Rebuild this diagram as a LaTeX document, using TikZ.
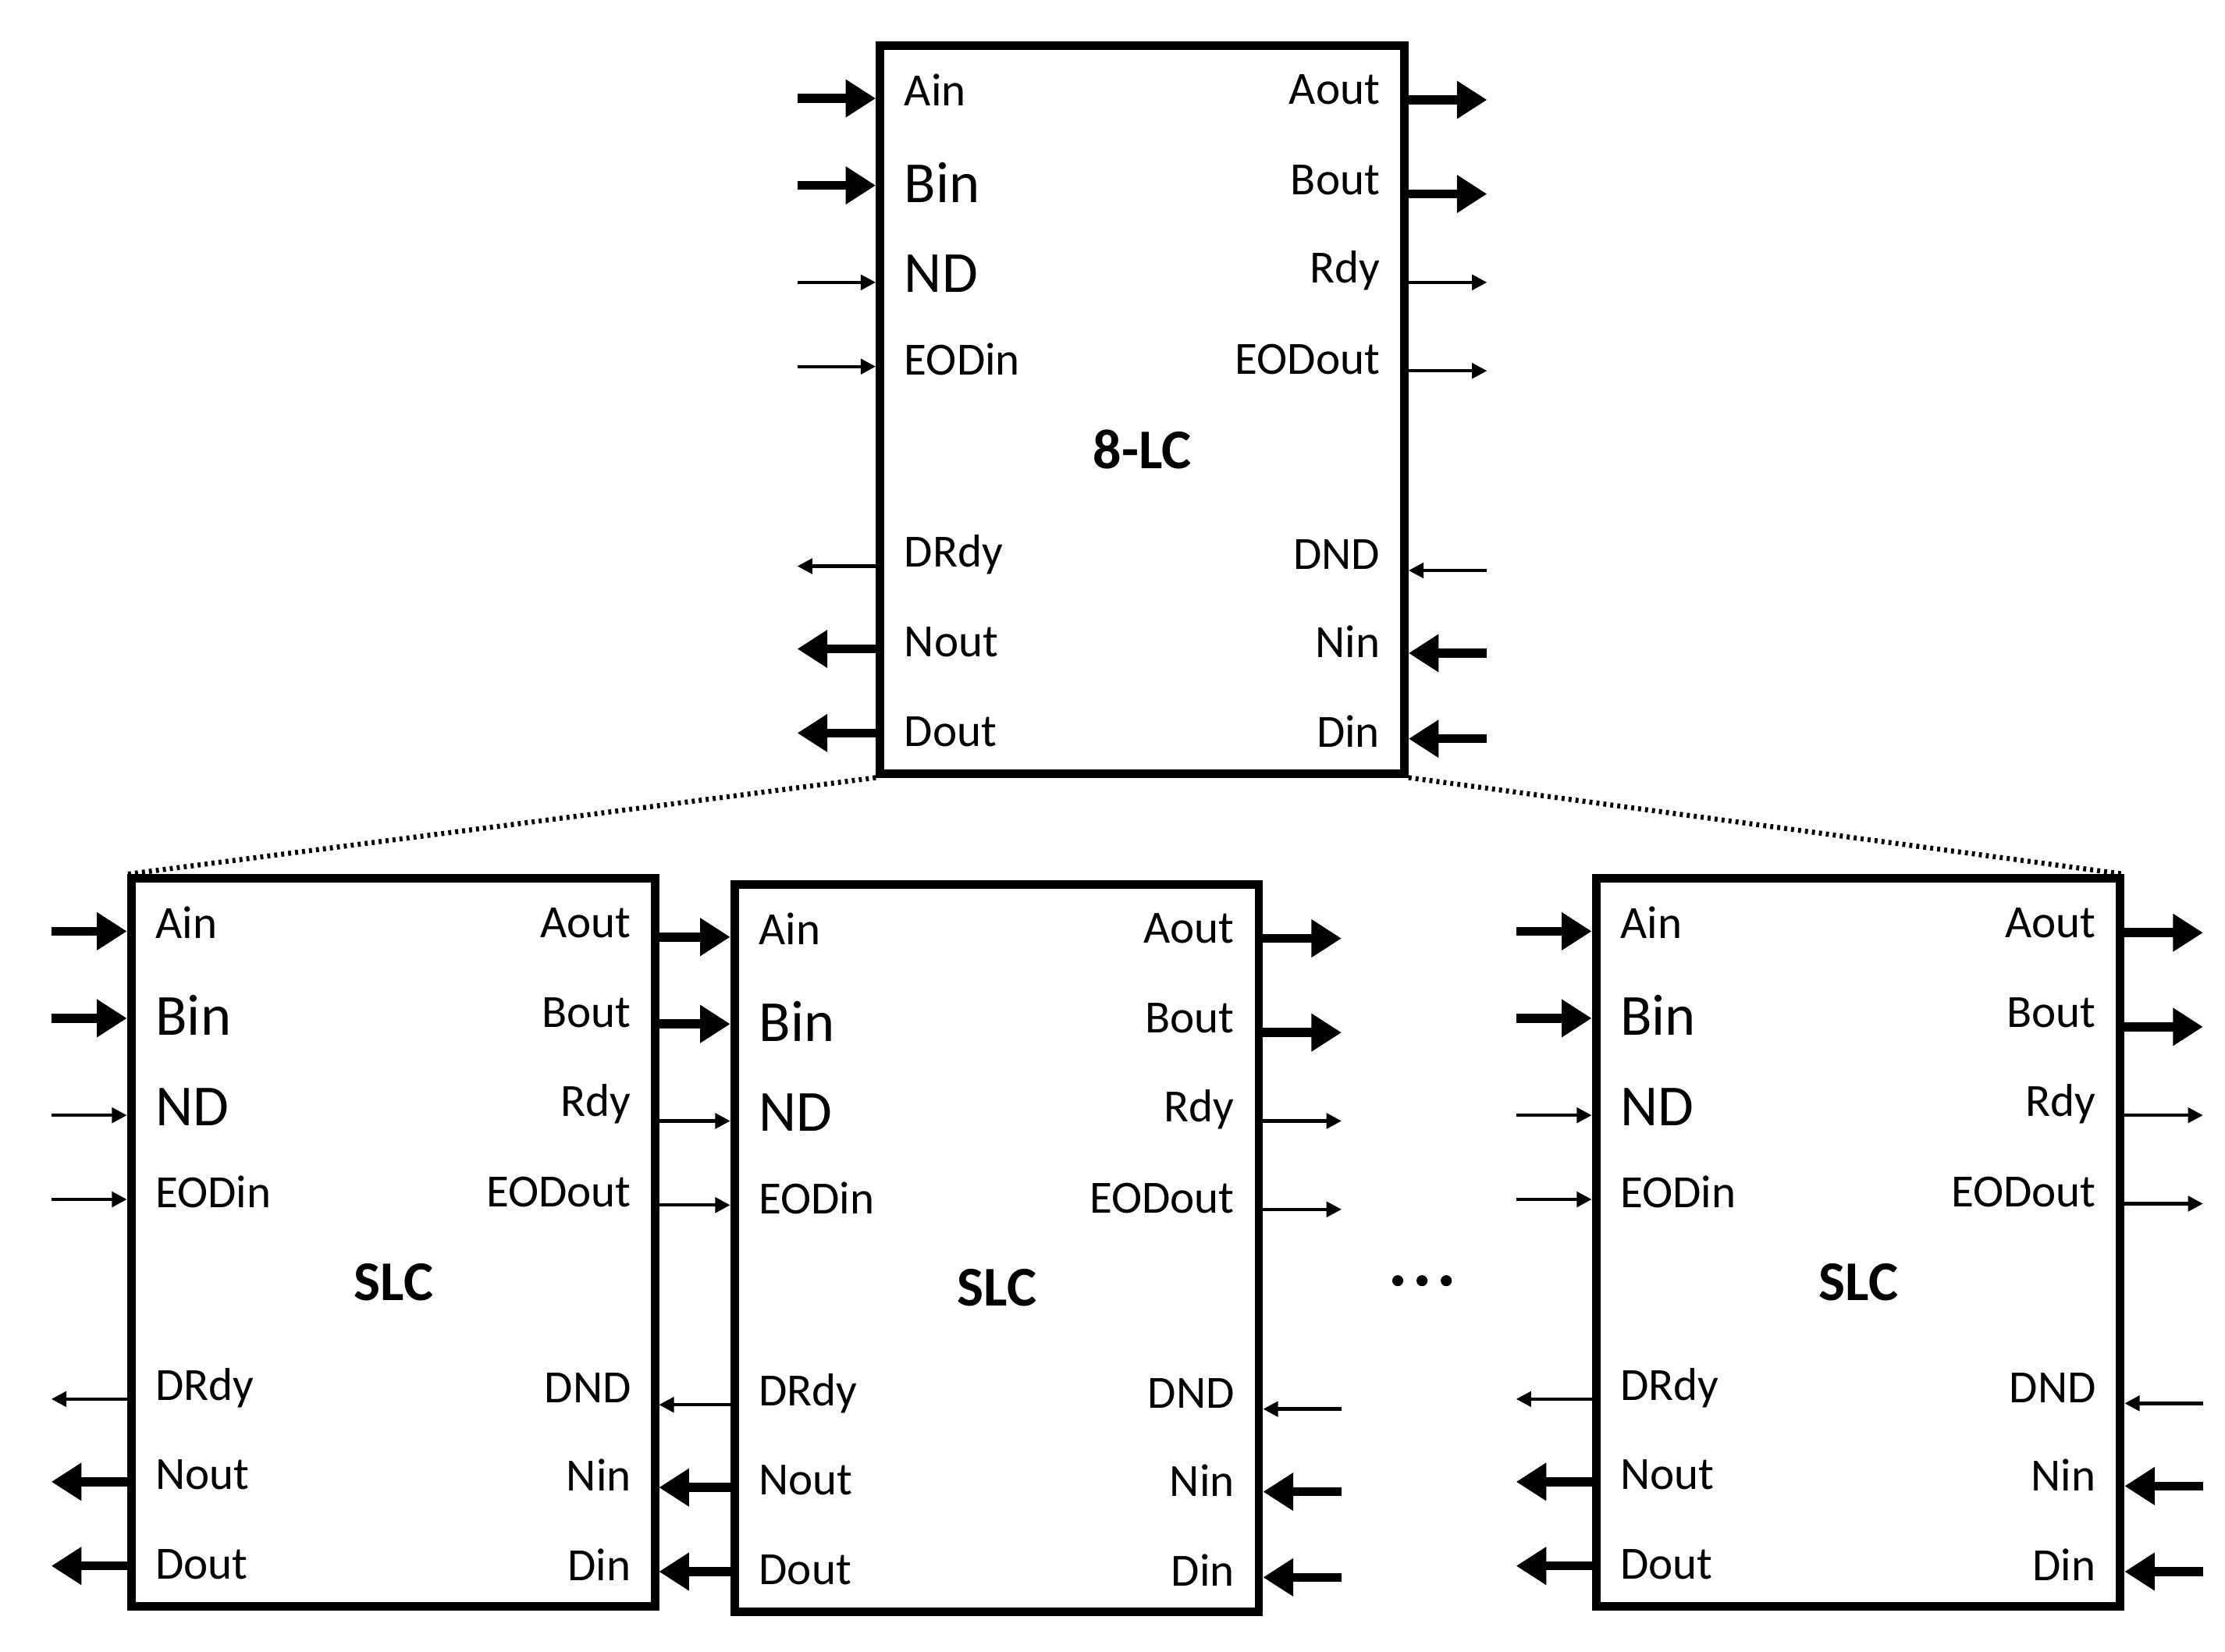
\documentclass[tikz,border=0pt]{standalone}
\usepackage{fontspec}
\setmainfont{Carlito}
\usetikzlibrary{calc,arrows.meta}
\tikzset{
  blk/.style={draw,line width=8.5pt,minimum width=523pt,minimum height=726pt,inner sep=0pt,anchor=north west},
  lab/.style={font=\fontsize{46}{52}\selectfont,inner sep=0pt},
  biglab/.style={font=\fontsize{58}{64}\selectfont,inner sep=0pt},
  ttl/.style={font=\fontsize{56}{62}\selectfont\bfseries,inner sep=0pt},
  fat/.style={line width=9pt,-{Triangle[length=30pt,width=36pt]}},
  slim/.style={line width=3.4pt,-{Triangle[length=15pt,width=15pt]}},
  dotl/.style={line width=5pt,dash pattern=on 3pt off 4pt}
}
\newcommand\mkcell[6]{%
  \node[blk] (#1) at (#2,#3) {};
  \node[ttl] (#1t) at ($(#1.north west)+(187,286)$) {#4};
  \node[lab,anchor=west] (#1a) at ($(#1.north west)+(20,34)$) {Ain};
  \node[biglab,anchor=west] (#1b) at ($(#1.north west)+(20,99)$) {Bin};
  \node[biglab,anchor=west] (#1c) at ($(#1.north west)+(20,163)$) {ND};
  \node[lab,anchor=west] (#1d) at ($(#1.north west)+(20,223)$) {EODin};
  \node[lab,anchor=west] (#1e) at ($(#1.north west)+(20,360)$) {DRdy};
  \node[lab,anchor=west] (#1f) at ($(#1.north west)+(20,421)$) {Nout};
  \node[lab,anchor=west] (#1g) at ($(#1.north west)+(20,484)$) {Dout};
  \node[lab,anchor=east] (#1h) at ($(#1.north east)+(-20,34)$) {Aout};
  \node[lab,anchor=east] (#1i) at ($(#1.north east)+(-20,97)$) {Bout};
  \node[lab,anchor=east] (#1j) at ($(#1.north east)+(-20,161)$) {Rdy};
  \node[lab,anchor=east] (#1k) at ($(#1.north east)+(-20,223)$) {EODout};
  \node[lab,anchor=east] (#1l) at ($(#1.north east)+(-20,360)$) {DND};
  \node[lab,anchor=east] (#1m) at ($(#1.north east)+(-20,421)$) {Nin};
  \node[lab,anchor=east] (#1n) at ($(#1.north east)+(-20,484)$) {Din};
  \ifnum#5=1
    \coordinate (#1L1) at ($(#1.north west)+(-#6,40)$);
    \coordinate (#1L2) at ($(#1.north west)+(-#6,101)$);
    \coordinate (#1L3) at ($(#1.north west)+(-#6,169)$);
    \coordinate (#1L4) at ($(#1.north west)+(-#6,228)$);
    \coordinate (#1L5) at ($(#1.north west)+(-#6,368)$);
    \coordinate (#1L6) at ($(#1.north west)+(-#6,426)$);
    \coordinate (#1L7) at ($(#1.north west)+(-#6,485)$);
    \draw[fat] (#1L1) -- (#1L1-|#1.west);
    \draw[fat] (#1L2) -- (#1L2-|#1.west);
    \draw[slim] (#1L3) -- (#1L3-|#1.west);
    \draw[slim] (#1L4) -- (#1L4-|#1.west);
    \draw[slim] (#1L5-|#1.west) -- (#1L5);
    \draw[fat] (#1L6-|#1.west) -- (#1L6);
    \draw[fat] (#1L7-|#1.west) -- (#1L7);
  \fi
}
\newcommand\mkright[1]{%
  \coordinate (#1R1) at ($(#1.north east)+(55,41)$);
  \coordinate (#1R2) at ($(#1.north east)+(55,107)$);
  \coordinate (#1R3) at ($(#1.north east)+(55,169)$);
  \coordinate (#1R4) at ($(#1.north east)+(55,231)$);
  \coordinate (#1R5) at ($(#1.north east)+(55,371)$);
  \coordinate (#1R6) at ($(#1.north east)+(55,429)$);
  \coordinate (#1R7) at ($(#1.north east)+(55,489)$);
  \draw[fat] (#1R1-|#1.east) -- (#1R1);
  \draw[fat] (#1R2-|#1.east) -- (#1R2);
  \draw[slim] (#1R3-|#1.east) -- (#1R3);
  \draw[slim] (#1R4-|#1.east) -- (#1R4);
  \draw[slim] (#1R5) -- (#1R5-|#1.east);
  \draw[fat] (#1R6) -- (#1R6-|#1.east);
  \draw[fat] (#1R7) -- (#1R7-|#1.east);
}
\begin{document}
\begin{tikzpicture}[x=0.05cm,y=-0.05cm]
\useasboundingbox[fill=white] (0,0) rectangle (1560,1158);
\mkcell{top}{614}{29}{8-LC}{1}{55}
\mkright{top}
\mkcell{s1}{89}{613}{SLC}{1}{53}
\mkcell{s2}{512}{617}{SLC}{1}{50}
\mkright{s2}
\mkcell{s3}{1116}{613}{SLC}{1}{53}
\mkright{s3}
\draw[dotl] (top.south west) -- (s1.north west);
\draw[dotl] (top.south east) -- (s3.north east);
\node[circle,fill,inner sep=0pt,minimum size=11pt] (d1) at (980,898) {};
\node[circle,fill,inner sep=0pt,minimum size=11pt] (d2) at (997,898) {};
\node[circle,fill,inner sep=0pt,minimum size=11pt] (d3) at (1014,898) {};
\end{tikzpicture}
\end{document}
